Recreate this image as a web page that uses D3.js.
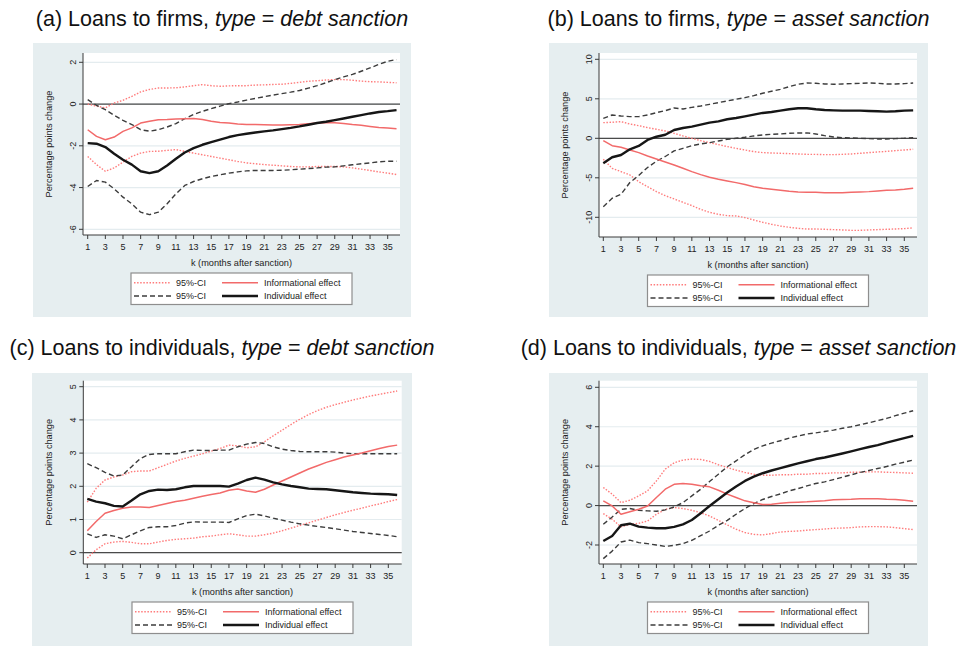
<!DOCTYPE html>
<html><head><meta charset="utf-8">
<script src="https://cdn.jsdelivr.net/npm/d3@7"></script>
<style>
body{margin:0;background:#fff}
svg{display:block}
text{font-family:"Liberation Sans",Arial,Helvetica,sans-serif}
</style>
</head><body>
<svg id="chart" width="963" height="646"></svg>
<script>
// ---------- DATA ----------
const months = [1,2,3,4,5,6,7,8,9,10,11,12,13,14,15,16,17,18,19,20,21,22,23,24,25,26,27,28,29,30,31,32,33,34,35,36];
const xTicks = [1,3,5,7,9,11,13,15,17,19,21,23,25,27,29,31,33,35];

// (a) Loans to firms, debt sanction
const aYTicks = [-6,-4,-2,0,2];
const aIndiv   = [-1.87,-1.90,-2.06,-2.38,-2.67,-2.90,-3.22,-3.31,-3.22,-2.94,-2.62,-2.32,-2.11,-1.95,-1.82,-1.70,-1.58,-1.49,-1.42,-1.36,-1.31,-1.26,-1.20,-1.14,-1.07,-0.99,-0.91,-0.85,-0.77,-0.69,-0.61,-0.53,-0.45,-0.38,-0.34,-0.29];
const aIndivHi = [0.21,-0.06,-0.27,-0.54,-0.78,-0.98,-1.23,-1.30,-1.23,-1.10,-0.94,-0.70,-0.50,-0.35,-0.22,-0.10,0.02,0.10,0.19,0.27,0.35,0.43,0.50,0.57,0.65,0.76,0.88,1.02,1.17,1.30,1.42,1.57,1.73,1.90,2.05,2.13];
const aIndivLo = [-3.95,-3.66,-3.74,-4.06,-4.46,-4.78,-5.18,-5.30,-5.18,-4.78,-4.30,-3.90,-3.71,-3.58,-3.47,-3.39,-3.31,-3.25,-3.20,-3.18,-3.18,-3.18,-3.17,-3.15,-3.12,-3.09,-3.06,-3.02,-3.01,-2.96,-2.91,-2.86,-2.82,-2.77,-2.74,-2.74];
const aInfo    = [-1.23,-1.55,-1.71,-1.58,-1.31,-1.14,-0.91,-0.82,-0.75,-0.74,-0.72,-0.70,-0.69,-0.74,-0.82,-0.88,-0.91,-0.96,-0.98,-0.98,-0.99,-1.00,-1.00,-0.99,-0.98,-0.94,-0.91,-0.90,-0.90,-0.93,-0.98,-1.02,-1.07,-1.12,-1.15,-1.18];
const aInfoHi  = [0.00,-0.10,-0.18,0.05,0.18,0.37,0.58,0.70,0.77,0.77,0.78,0.82,0.88,0.93,0.88,0.85,0.87,0.88,0.88,0.91,0.92,0.94,0.95,0.99,1.04,1.09,1.12,1.15,1.17,1.17,1.14,1.10,1.07,1.06,1.04,1.02];
const aInfoLo  = [-2.51,-2.90,-3.22,-3.06,-2.78,-2.51,-2.35,-2.27,-2.26,-2.22,-2.18,-2.27,-2.35,-2.43,-2.51,-2.59,-2.67,-2.75,-2.82,-2.86,-2.90,-2.93,-2.96,-2.99,-3.01,-3.01,-2.99,-2.99,-2.99,-3.01,-3.06,-3.12,-3.18,-3.25,-3.31,-3.38];

// (b) Loans to firms, asset sanction
const bYTicks = [-10,-5,0,5,10];
const bIndiv   = [-3.16,-2.40,-2.11,-1.39,-0.97,-0.21,0.20,0.45,1.05,1.30,1.48,1.73,1.98,2.15,2.41,2.57,2.78,3.00,3.21,3.33,3.50,3.67,3.80,3.80,3.67,3.59,3.54,3.50,3.50,3.50,3.46,3.42,3.38,3.42,3.50,3.54];
const bIndivHi = [2.53,2.95,2.83,2.74,2.74,2.95,3.25,3.50,3.84,3.71,3.92,4.09,4.30,4.51,4.73,4.94,5.15,5.40,5.70,5.95,6.20,6.54,6.84,7.00,6.96,6.88,6.84,6.88,6.92,6.96,7.00,6.96,6.88,6.88,6.92,7.00];
const bIndivLo = [-8.65,-7.59,-7.10,-5.60,-4.70,-3.70,-2.90,-2.30,-1.60,-1.27,-0.93,-0.72,-0.55,-0.34,-0.13,0.00,0.13,0.30,0.42,0.51,0.55,0.63,0.68,0.68,0.55,0.34,0.17,0.08,0.04,0.00,-0.04,-0.08,-0.08,-0.04,0.00,0.08];
const bInfo    = [-0.30,-0.93,-1.14,-1.48,-1.81,-2.24,-2.62,-3.00,-3.38,-3.80,-4.22,-4.60,-4.94,-5.19,-5.40,-5.61,-5.86,-6.12,-6.33,-6.46,-6.58,-6.71,-6.79,-6.84,-6.84,-6.88,-6.88,-6.88,-6.84,-6.79,-6.75,-6.67,-6.58,-6.54,-6.46,-6.33];
const bInfoHi  = [1.98,2.03,2.11,1.81,1.60,1.35,1.14,0.93,0.63,0.30,0.00,-0.30,-0.55,-0.80,-1.05,-1.27,-1.48,-1.69,-1.81,-1.86,-1.90,-1.94,-1.98,-2.03,-2.03,-2.07,-2.07,-2.03,-1.98,-1.90,-1.81,-1.73,-1.65,-1.56,-1.48,-1.39];
const bInfoLo  = [-2.66,-3.80,-4.22,-4.64,-5.49,-6.12,-6.75,-7.26,-7.68,-8.10,-8.52,-8.99,-9.37,-9.62,-9.79,-9.83,-10.04,-10.34,-10.63,-10.89,-11.10,-11.27,-11.39,-11.48,-11.48,-11.52,-11.56,-11.60,-11.65,-11.65,-11.60,-11.56,-11.52,-11.48,-11.43,-11.35];

// (c) Loans to individuals, debt sanction
const cYTicks = [0,1,2,3,4,5];
const cIndiv   = [1.62,1.54,1.49,1.41,1.39,1.57,1.76,1.86,1.90,1.89,1.91,1.97,2.01,2.01,2.01,2.01,1.99,2.08,2.19,2.26,2.20,2.12,2.06,2.01,1.97,1.93,1.92,1.91,1.88,1.85,1.82,1.80,1.78,1.77,1.76,1.74];
const cIndivHi = [2.68,2.56,2.42,2.31,2.34,2.59,2.84,2.96,2.98,2.98,2.98,3.04,3.09,3.08,3.08,3.09,3.09,3.19,3.27,3.32,3.29,3.19,3.12,3.08,3.05,3.04,3.04,3.04,3.03,3.00,2.98,2.98,2.98,2.98,2.98,2.98];
const cIndivLo = [0.57,0.46,0.54,0.50,0.42,0.54,0.66,0.76,0.78,0.78,0.82,0.89,0.93,0.92,0.92,0.92,0.91,1.02,1.12,1.16,1.11,1.04,0.98,0.92,0.87,0.83,0.79,0.76,0.72,0.68,0.64,0.61,0.58,0.55,0.52,0.48];
const cInfo    = [0.66,0.94,1.19,1.27,1.34,1.38,1.38,1.36,1.42,1.48,1.54,1.58,1.64,1.70,1.75,1.80,1.88,1.92,1.86,1.82,1.91,2.04,2.16,2.28,2.40,2.52,2.62,2.72,2.80,2.88,2.94,3.00,3.07,3.14,3.20,3.24];
const cInfoHi  = [1.52,1.94,2.19,2.28,2.34,2.44,2.46,2.46,2.56,2.66,2.76,2.84,2.91,2.98,3.06,3.14,3.24,3.22,3.16,3.19,3.34,3.52,3.69,3.86,4.02,4.16,4.28,4.38,4.46,4.53,4.60,4.66,4.72,4.77,4.82,4.87];
const cInfoLo  = [-0.16,0.09,0.27,0.32,0.34,0.31,0.27,0.27,0.32,0.37,0.40,0.42,0.44,0.48,0.50,0.54,0.57,0.54,0.50,0.50,0.54,0.59,0.66,0.74,0.82,0.90,0.98,1.06,1.14,1.21,1.28,1.34,1.41,1.47,1.54,1.60];

// (d) Loans to individuals, asset sanction
const dYTicks = [-2,0,2,4,6];
const dIndiv   = [-1.80,-1.54,-1.00,-0.92,-1.07,-1.12,-1.15,-1.15,-1.08,-0.95,-0.73,-0.39,-0.02,0.32,0.66,0.97,1.25,1.47,1.64,1.78,1.90,2.02,2.14,2.25,2.36,2.44,2.54,2.64,2.75,2.86,2.97,3.07,3.19,3.31,3.42,3.54];
const dIndivHi = [-0.95,-0.58,-0.19,-0.15,-0.24,-0.27,-0.29,-0.22,-0.07,0.15,0.49,0.83,1.22,1.59,1.97,2.27,2.58,2.85,3.03,3.17,3.29,3.42,3.53,3.63,3.69,3.76,3.83,3.92,4.00,4.10,4.20,4.31,4.42,4.56,4.69,4.81];
const dIndivLo = [-2.69,-2.31,-1.85,-1.75,-1.88,-1.93,-2.00,-2.07,-2.02,-1.93,-1.76,-1.53,-1.29,-1.00,-0.75,-0.44,-0.15,0.10,0.31,0.46,0.59,0.75,0.86,1.00,1.12,1.20,1.32,1.44,1.56,1.68,1.78,1.88,1.98,2.10,2.20,2.31];
const dInfo    = [0.24,-0.02,-0.44,-0.31,-0.19,-0.02,0.41,0.83,1.08,1.12,1.08,1.00,0.95,0.78,0.58,0.41,0.24,0.14,0.05,0.07,0.12,0.15,0.17,0.19,0.22,0.25,0.29,0.31,0.32,0.34,0.34,0.34,0.32,0.31,0.27,0.22];
const dInfoHi  = [0.92,0.58,0.15,0.27,0.49,0.75,1.25,1.85,2.17,2.31,2.36,2.34,2.24,2.07,1.93,1.80,1.68,1.59,1.54,1.54,1.56,1.56,1.59,1.59,1.63,1.63,1.66,1.66,1.69,1.69,1.71,1.71,1.69,1.68,1.66,1.64];
const dInfoLo  = [-0.41,-0.69,-1.08,-0.95,-0.90,-0.78,-0.44,-0.19,-0.10,-0.15,-0.24,-0.36,-0.53,-0.75,-0.98,-1.20,-1.37,-1.46,-1.49,-1.42,-1.34,-1.31,-1.29,-1.25,-1.22,-1.19,-1.15,-1.14,-1.12,-1.08,-1.07,-1.07,-1.08,-1.12,-1.17,-1.22];

const titles = [
  ["(a) Loans to firms, ", "debt sanction"],
  ["(b) Loans to firms, ", "asset sanction"],
  ["(c) Loans to individuals, ", "debt sanction"],
  ["(d) Loans to individuals, ", "asset sanction"]
];
const xTitle = "k (months after sanction)";
const yTitle = "Percentage points change";
const legendLabels = ["95%-CI", "Informational effect", "95%-CI", "Individual effect"];

// ---------- LAYOUT / STYLE ----------
const panels = [
  {t: titles[0], yTicks: aYTicks, s: {info: aInfo, infoHi: aInfoHi, infoLo: aInfoLo, indiv: aIndiv, indivHi: aIndivHi, indivLo: aIndivLo},
   box: [33, 43, 411, 317], plot: {l: 83, r: 400, t: 53, b: 235}, xPx: [87.7, 387.7], yMap: [2, 62.3, -6, 229.3], titleY: 25.5},
  {t: titles[1], yTicks: bYTicks, s: {info: bInfo, infoHi: bInfoHi, infoLo: bInfoLo, indiv: bIndiv, indivHi: bIndivHi, indivLo: bIndivLo},
   box: [549, 43, 928, 317], plot: {l: 599, r: 917, t: 53, b: 237}, xPx: [603.3, 904.3], yMap: [10, 59.3, -10, 217.3], titleY: 25.5},
  {t: titles[2], yTicks: cYTicks, s: {info: cInfo, infoHi: cInfoHi, infoLo: cInfoLo, indiv: cIndiv, indivHi: cIndivHi, indivLo: cIndivLo},
   box: [32, 373, 412, 646], plot: {l: 83.3, r: 401.7, t: 380.7, b: 564}, xPx: [87.3, 388.3], yMap: [5, 386.7, 0, 552.7], titleY: 355},
  {t: titles[3], yTicks: dYTicks, s: {info: dInfo, infoHi: dInfoHi, infoLo: dInfoLo, indiv: dIndiv, indivHi: dIndivHi, indivLo: dIndivLo},
   box: [549, 373, 928, 646], plot: {l: 599, r: 917, t: 380.7, b: 564}, xPx: [603.3, 904.3], yMap: [6, 387.3, -2, 545], titleY: 355}
];

const styles = {
  infoCI:  {stroke: "#ff7c7c", width: 1.4, dash: "1.5,1.6"},
  indivCI: {stroke: "#3c3c3c", width: 1.4, dash: "5,3"},
  info:    {stroke: "#f26a6a", width: 1.5, dash: null},
  indiv:   {stroke: "#161616", width: 2.4, dash: null}
};
const BG = "#e6eef0", GRID = "#e4ecef", AXIS = "#3a3a3a", TXT = "#222";

const svg = d3.select("#chart");
svg.append("rect").attr("width", 963).attr("height", 646).attr("fill", "#fff");

panels.forEach(p => {
  const g = svg.append("g");
  const [bx0, by0, bx1, by1] = p.box;
  g.append("rect").attr("x", bx0).attr("y", by0).attr("width", bx1 - bx0).attr("height", by1 - by0).attr("fill", BG);

  const P = p.plot;
  g.append("rect").attr("x", P.l).attr("y", P.t).attr("width", P.r - P.l).attr("height", P.b - P.t).attr("fill", "#fff");

  const x = d3.scaleLinear().domain([1, 35]).range(p.xPx);
  const y = d3.scaleLinear().domain([p.yMap[0], p.yMap[2]]).range([p.yMap[1], p.yMap[3]]);

  // gridlines
  g.selectAll(".grid").data(p.yTicks).enter().append("line")
    .attr("x1", P.l).attr("x2", P.r).attr("y1", d => y(d)).attr("y2", d => y(d))
    .attr("stroke", GRID).attr("stroke-width", 1.2);

  // zero line
  g.append("line").attr("x1", P.l).attr("x2", P.r).attr("y1", y(0)).attr("y2", y(0))
    .attr("stroke", "#4a4a4a").attr("stroke-width", 1.3);

  // series
  const line = d3.line().x((d, i) => x(months[i])).y(d => y(d));
  const order = [["infoHi", "infoCI"], ["infoLo", "infoCI"], ["indivHi", "indivCI"], ["indivLo", "indivCI"], ["info", "info"], ["indiv", "indiv"]];
  order.forEach(([key, st]) => {
    const s = styles[st];
    g.append("path").datum(p.s[key]).attr("d", line).attr("fill", "none")
      .attr("stroke", s.stroke).attr("stroke-width", s.width)
      .attr("stroke-dasharray", s.dash).attr("stroke-linejoin", "round");
  });

  // axes lines
  g.append("line").attr("x1", P.l).attr("x2", P.l).attr("y1", P.t).attr("y2", P.b).attr("stroke", AXIS).attr("stroke-width", 1);
  g.append("line").attr("x1", P.l).attr("x2", P.r).attr("y1", P.b).attr("y2", P.b).attr("stroke", AXIS).attr("stroke-width", 1);

  // y ticks + rotated labels
  g.selectAll(".yt").data(p.yTicks).enter().append("line")
    .attr("x1", P.l - 4).attr("x2", P.l).attr("y1", d => y(d)).attr("y2", d => y(d))
    .attr("stroke", AXIS).attr("stroke-width", 1);
  g.selectAll(".yl").data(p.yTicks).enter().append("text")
    .attr("transform", d => `translate(${P.l - 7.5},${y(d)}) rotate(-90)`)
    .attr("text-anchor", "middle").attr("font-size", 9).attr("fill", TXT)
    .text(d => String(d));

  // x ticks + labels
  g.selectAll(".xt").data(xTicks).enter().append("line")
    .attr("x1", d => x(d)).attr("x2", d => x(d)).attr("y1", P.b).attr("y2", P.b + 4)
    .attr("stroke", AXIS).attr("stroke-width", 1);
  g.selectAll(".xl").data(xTicks).enter().append("text")
    .attr("x", d => x(d)).attr("y", P.b + 14.5)
    .attr("text-anchor", "middle").attr("font-size", 9).attr("fill", TXT)
    .text(d => d);

  const cx = (P.l + P.r) / 2;
  // axis titles
  g.append("text").attr("x", cx).attr("y", P.b + 31).attr("text-anchor", "middle")
    .attr("font-size", 9.2).attr("fill", TXT).text(xTitle);
  g.append("text").attr("transform", `translate(${P.l - 31},${(P.t + P.b) / 2}) rotate(-90)`)
    .attr("text-anchor", "middle").attr("font-size", 9.2).attr("fill", TXT).text(yTitle);

  // legend
  const lw = 221, lh = 31.5, lx = cx - lw / 2, ly = P.b + 38;
  const lg = g.append("g");
  lg.append("rect").attr("x", lx).attr("y", ly).attr("width", lw).attr("height", lh)
    .attr("fill", "#fff").attr("stroke", "#8e8e8e").attr("stroke-width", 1.2);
  const items = [
    {st: "infoCI", label: legendLabels[0], col: 0, row: 0},
    {st: "info", label: legendLabels[1], col: 1, row: 0},
    {st: "indivCI", label: legendLabels[2], col: 0, row: 1},
    {st: "indiv", label: legendLabels[3], col: 1, row: 1}
  ];
  items.forEach(it => {
    const s = styles[it.st];
    const sx0 = lx + (it.col ? 91 : 3), sx1 = lx + (it.col ? 127 : 40);
    const ry = ly + (it.row ? 23 : 9.7);
    lg.append("line").attr("x1", sx0).attr("x2", sx1).attr("y1", ry).attr("y2", ry)
      .attr("stroke", s.stroke).attr("stroke-width", s.width).attr("stroke-dasharray", s.dash);
    lg.append("text").attr("x", lx + (it.col ? 133 : 45)).attr("y", ry + 3.2)
      .attr("font-size", 9).attr("fill", TXT).text(it.label);
  });

  // title
  const tt = svg.append("text").attr("x", (bx0 + bx1) / 2).attr("y", p.titleY)
    .attr("text-anchor", "middle").attr("font-size", 21.5).attr("fill", "#111");
  tt.append("tspan").text(p.t[0]);
  tt.append("tspan").attr("font-style", "italic").text("type");
  tt.append("tspan").text(" = ");
  tt.append("tspan").attr("font-style", "italic").text(p.t[1]);
});
</script>
</body></html>
